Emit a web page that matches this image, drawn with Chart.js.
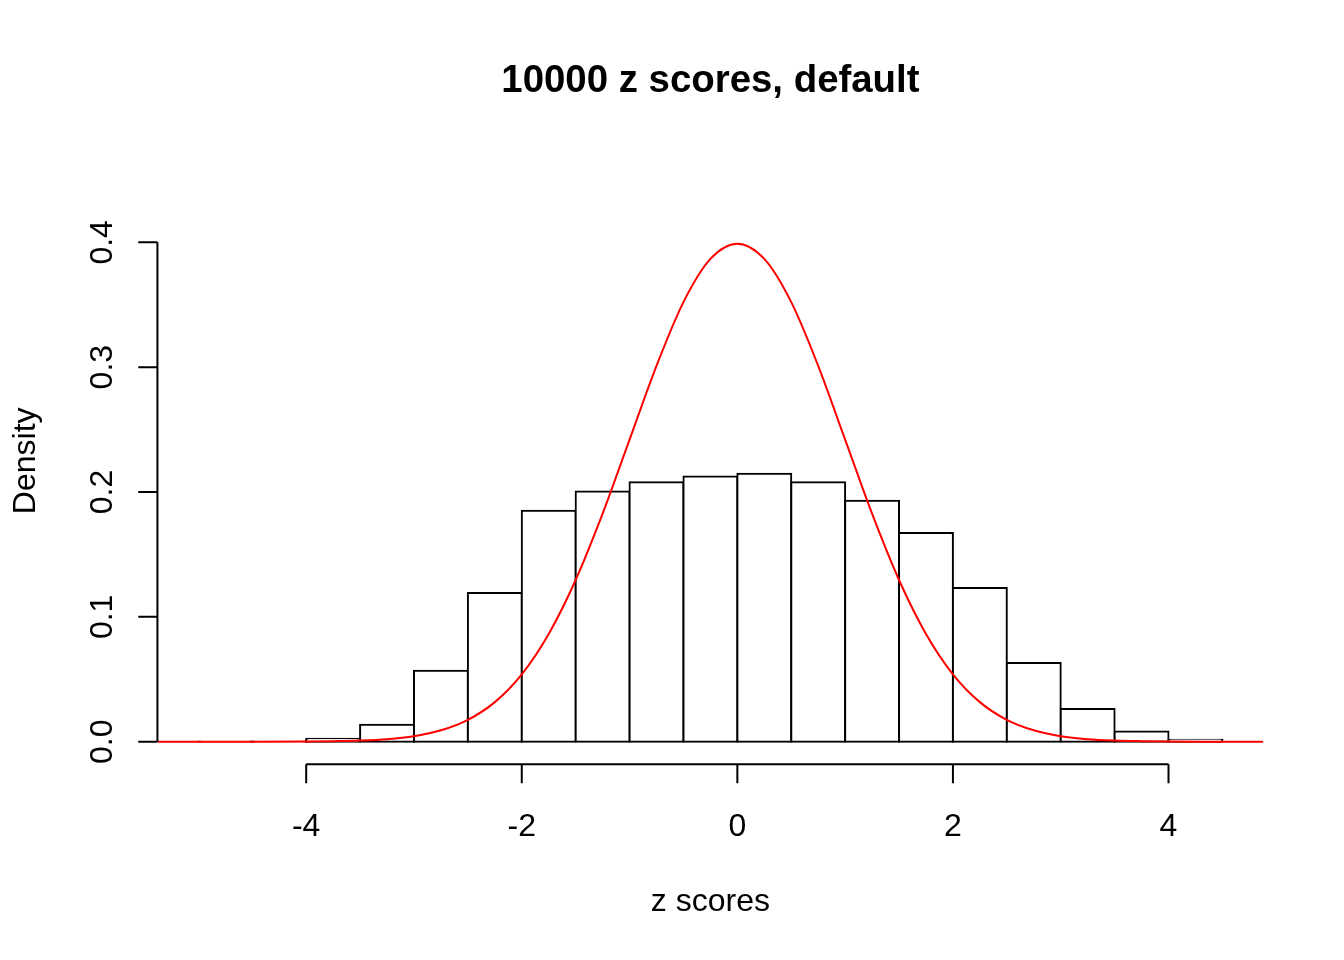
<!DOCTYPE html>
<html>
<head>
<meta charset="utf-8">
<script src="https://cdn.jsdelivr.net/npm/chart.js@4/dist/chart.umd.min.js"></script>
<style>
  html, body { margin: 0; padding: 0; background: #ffffff; }
  canvas { display: block; }
</style>
</head>
<body>
<canvas id="chart" width="1344" height="960"></canvas>
<script>
// Text
const titleText = '10000 z scores, default';
const xLabel = 'z scores';
const yLabel = 'Density';

// Histogram: bin edges and density of each bin
const breaks = [-5, -4.5, -4, -3.5, -3, -2.5, -2, -1.5, -1, -0.5, 0, 0.5, 1, 1.5, 2, 2.5, 3, 3.5, 4, 4.5];
const densities = [0.0002, 0.0002, 0.0024, 0.0136, 0.0568, 0.1192, 0.1850, 0.2004, 0.2078, 0.2124,
                   0.2146, 0.2078, 0.1930, 0.1672, 0.1232, 0.0630, 0.0262, 0.0082, 0.0016];

// Reference normal density curve
const curveX = [-5.38, -5, -4.5, -4, -3.75, -3.5, -3.25, -3, -2.75, -2.5, -2.25, -2, -1.75, -1.5, -1.25, -1,
                -0.75, -0.5, -0.25, 0, 0.25, 0.5, 0.75, 1, 1.25, 1.5, 1.75, 2, 2.25, 2.5, 2.75, 3, 3.25,
                3.5, 3.75, 4, 4.5, 4.88];
const curveY = [0, 0, 0, 0.0001, 0.0004, 0.0009, 0.0020, 0.0044, 0.0091, 0.0175, 0.0317, 0.0540, 0.0863,
                0.1295, 0.1826, 0.2420, 0.3011, 0.3521, 0.3867, 0.3989, 0.3867, 0.3521, 0.3011, 0.2420,
                0.1826, 0.1295, 0.0863, 0.0540, 0.0317, 0.0175, 0.0091, 0.0044, 0.0020, 0.0009, 0.0004,
                0.0001, 0, 0];

// Axis ticks
const xTicks = [-4, -2, 0, 2, 4];
const xTickLabels = ['-4', '-2', '0', '2', '4'];
const yTicks = [0, 0.1, 0.2, 0.3, 0.4];
const yTickLabels = ['0.0', '0.1', '0.2', '0.3', '0.4'];

// Plot ranges
const xRange = [-5.38, 4.88];
const yRange = [-0.018, 0.468];

const FONT = '"Liberation Sans", Arial, Helvetica, sans-serif';

const barData = densities.map((d, i) => ({ x: (breaks[i] + breaks[i + 1]) / 2, y: d }));
const curveData = curveX.map((x, i) => ({ x: x, y: curveY[i] }));

// Base-graphics style axes, tick labels and titles
const baseAxes = {
  id: 'baseAxes',
  afterDraw(chart) {
    const { ctx, chartArea: a, scales } = chart;
    const xs = scales.x, ys = scales.y;
    const tickLen = 19.2;
    ctx.save();
    ctx.strokeStyle = '#000000';
    ctx.fillStyle = '#000000';
    ctx.lineWidth = 2;
    ctx.lineCap = 'butt';

    // y axis
    const ax = a.left;
    ctx.beginPath();
    ctx.moveTo(ax, ys.getPixelForValue(yTicks[0]));
    ctx.lineTo(ax, ys.getPixelForValue(yTicks[yTicks.length - 1]));
    yTicks.forEach(v => {
      const p = ys.getPixelForValue(v);
      ctx.moveTo(ax, p);
      ctx.lineTo(ax - tickLen, p);
    });
    // x axis
    const ay = a.bottom;
    ctx.moveTo(xs.getPixelForValue(xTicks[0]), ay);
    ctx.lineTo(xs.getPixelForValue(xTicks[xTicks.length - 1]), ay);
    xTicks.forEach(v => {
      const p = xs.getPixelForValue(v);
      ctx.moveTo(p, ay);
      ctx.lineTo(p, ay + tickLen);
    });
    ctx.stroke();

    // x tick labels
    ctx.font = '32px ' + FONT;
    ctx.textAlign = 'center';
    ctx.textBaseline = 'alphabetic';
    xTicks.forEach((v, i) => {
      ctx.fillText(xTickLabels[i], xs.getPixelForValue(v), 836);
    });

    // y tick labels (rotated)
    yTicks.forEach((v, i) => {
      ctx.save();
      ctx.translate(112, ys.getPixelForValue(v));
      ctx.rotate(-Math.PI / 2);
      ctx.fillText(yTickLabels[i], 0, 0);
      ctx.restore();
    });

    // axis titles
    const cx = (a.left + a.right) / 2;
    const cy = (a.top + a.bottom) / 2;
    ctx.fillText(xLabel, cx, 911);
    ctx.save();
    ctx.translate(35, cy);
    ctx.rotate(-Math.PI / 2);
    ctx.fillText(yLabel, 0, 0);
    ctx.restore();

    // main title
    ctx.font = 'bold 38.4px ' + FONT;
    ctx.fillText(titleText, cx, 92);
    ctx.restore();
  }
};

new Chart(document.getElementById('chart'), {
  type: 'bar',
  data: {
    datasets: [
      {
        type: 'line',
        data: curveData,
        borderColor: '#ff0000',
        borderWidth: 2,
        pointRadius: 0,
        fill: false,
        cubicInterpolationMode: 'monotone',
        order: 0
      },
      {
        type: 'bar',
        data: barData,
        backgroundColor: '#ffffff',
        borderColor: '#000000',
        borderWidth: 2,
        borderSkipped: false,
        inflateAmount: 1,
        barPercentage: 1,
        categoryPercentage: 1,
        grouped: false,
        order: 1
      }
    ]
  },
  options: {
    responsive: false,
    animation: false,
    events: [],
    layout: { padding: { left: 157.44, right: 80.64, top: 157.44, bottom: 195.84 } },
    plugins: { legend: { display: false }, tooltip: { enabled: false }, title: { display: false } },
    scales: {
      x: { type: 'linear', min: xRange[0], max: xRange[1], offset: false, grid: { offset: false }, display: false },
      y: { type: 'linear', min: yRange[0], max: yRange[1], display: false }
    }
  },
  plugins: [baseAxes]
});
</script>
</body>
</html>
